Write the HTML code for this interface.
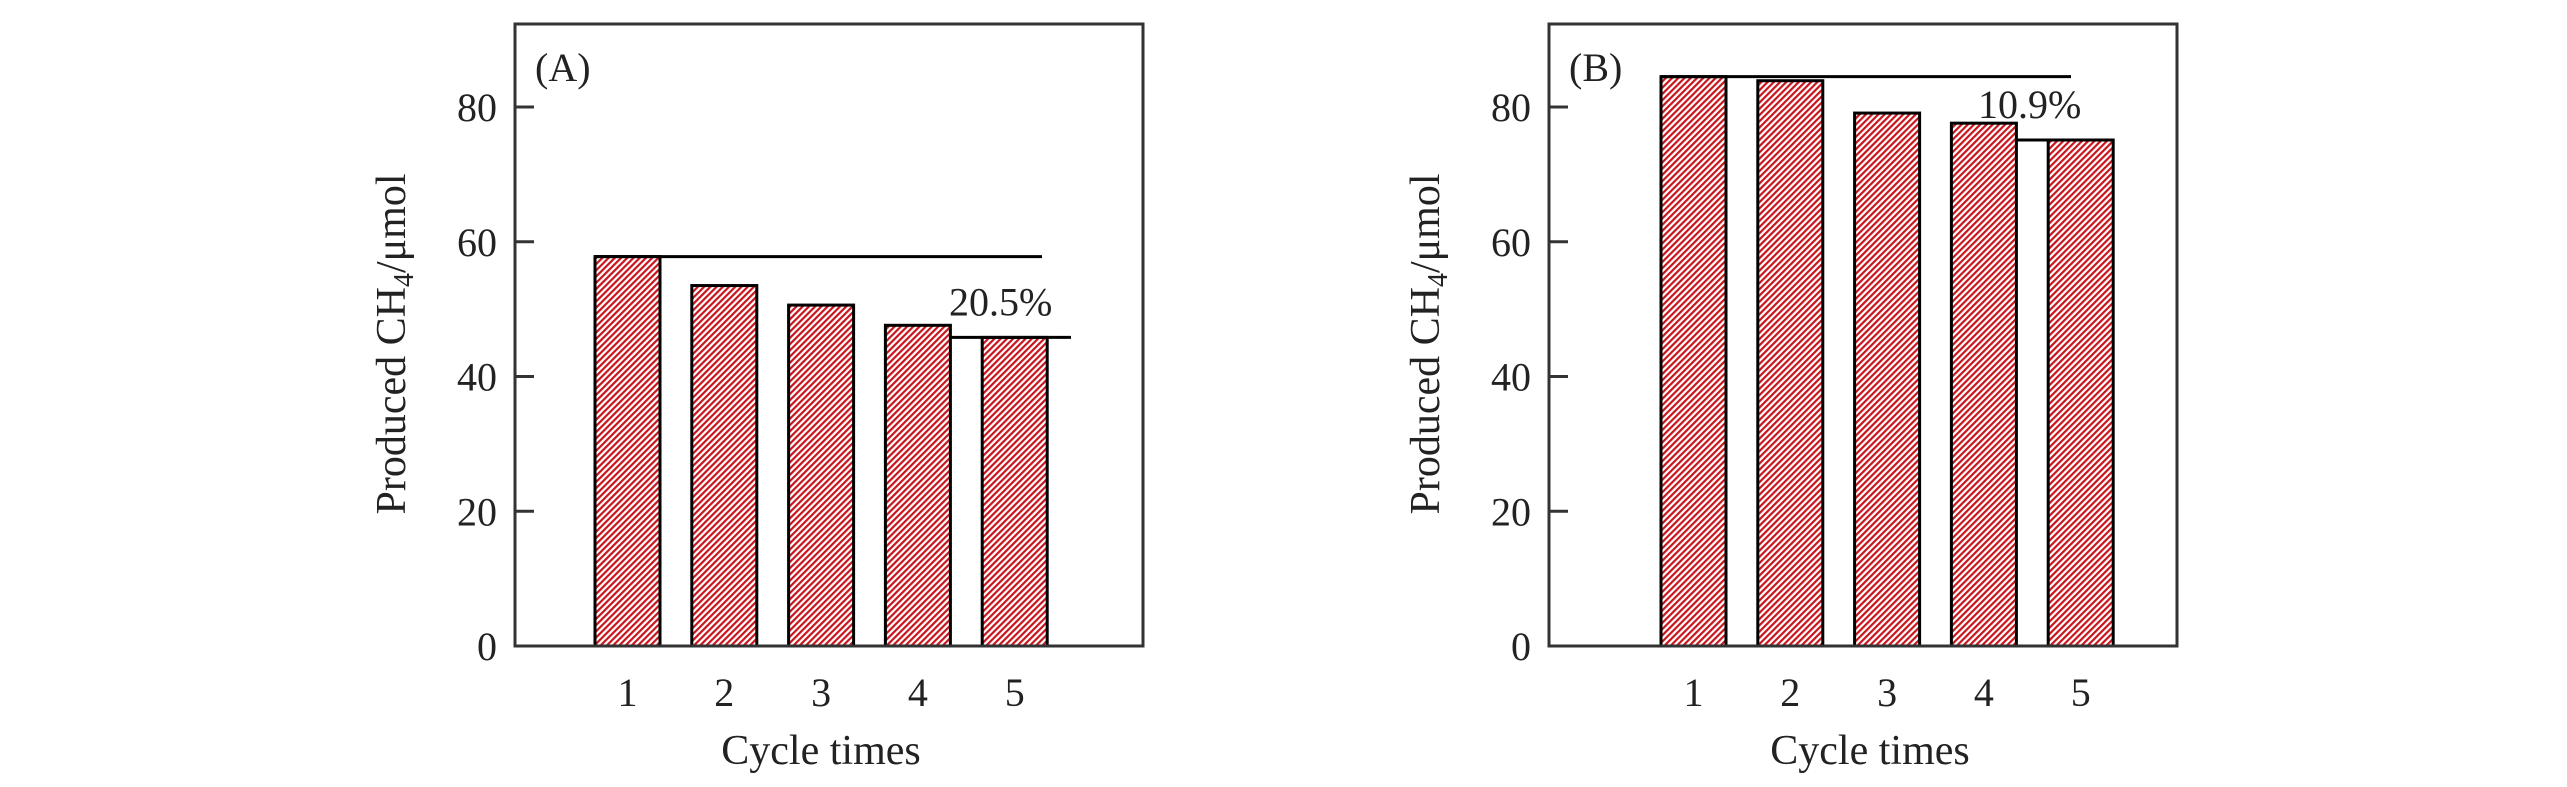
<!DOCTYPE html>
<html><head><meta charset="utf-8">
<style>
html,body{margin:0;padding:0;background:#fff;}
svg{display:block;}
text{font-family:"Liberation Serif","Times New Roman",serif;fill:#222;}
</style></head>
<body>
<svg id="chart" width="2567" height="787" viewBox="0 0 2567 787" xmlns="http://www.w3.org/2000/svg">
<defs>
<pattern id="hatch" patternUnits="userSpaceOnUse" width="4.4" height="4.4" patternTransform="rotate(45)">
<rect width="4.4" height="4.4" fill="#fff"/>
<rect x="0" y="0" width="2.2" height="4.4" fill="#c8141c"/>
</pattern>
</defs>
</svg>
<script>
const categories = ["1","2","3","4","5"];
const valuesA = [57.8, 53.5, 50.6, 47.6, 45.8];
const valuesB = [84.5, 83.9, 79.1, 77.6, 75.1];
const yTicks = [0, 20, 40, 60, 80];
const labelA = "20.5%";
const labelB = "10.9%";

const NS = "http://www.w3.org/2000/svg";
const svg = document.getElementById("chart");
function mk(tag, attrs, parent){
  const e = document.createElementNS(NS, tag);
  for (const k in attrs) e.setAttribute(k, attrs[k]);
  (parent||svg).appendChild(e);
  return e;
}

function panel(opt){
  const g = mk("g", {});
  
  
  const L = opt.left, R = opt.left + 628, T = 24, B = 646;
  const y = v => B - v * 6.7375;
  const x0 = opt.firstCenter, step = 96.8, bw = 65;
  const xc = i => x0 + i * step;

  opt.values.forEach((v, i) => {
    const r = mk("rect", {x: xc(i) - bw/2, y: y(v), width: bw, height: B - y(v), fill: "url(#hatch)", stroke: "#000", "stroke-width": 3}, g);
    
    
  });

  const fr = mk("rect", {x: L, y: T, width: R - L, height: B - T, fill: "none", stroke: "#333", "stroke-width": 3}, g);
  
  

  yTicks.forEach(t => {
    const tk = mk("line", {x1: L, x2: L + 19, y1: y(t), y2: y(t), stroke: "#333", "stroke-width": 3}, g);
    
    
    const tl = mk("text", {x: L - 18, y: y(t) + 14, "font-size": 40, "text-anchor": "end"}, g);
    tl.textContent = t;
    
    
  });

  categories.forEach((c, i) => {
    const t = mk("text", {x: xc(i), y: 706, "font-size": 40, "text-anchor": "middle"}, g);
    t.textContent = c;
    
    
  });

  const first = opt.values[0], last = opt.values[opt.values.length - 1];
  const l1 = mk("line", {x1: xc(0) - bw/2, x2: opt.topLineEnd, y1: y(first), y2: y(first), stroke: "#000", "stroke-width": 3}, g);
  
  
  const l2 = mk("line", {x1: xc(3) + bw/2 - 1, x2: opt.lowLineEnd, y1: y(last), y2: y(last), stroke: "#000", "stroke-width": 3}, g);
  
  
  const pl = mk("text", {x: opt.pctX, y: y(last) - 22, "font-size": 40}, g);
  pl.textContent = opt.pct;
  
  

  const pn = mk("text", {x: L + 20, y: 81, "font-size": 40}, g);
  pn.textContent = opt.tag;
  
  

  const xt = mk("text", {x: opt.xTitleX, y: 764, "font-size": 42, "text-anchor": "middle"}, g);
  xt.textContent = "Cycle times";
  
  
  const yt = mk("text", {x: 0, y: 0, "font-size": 42, "text-anchor": "middle", transform: "translate(" + (L - 110) + ",344) rotate(-90)"}, g);
  yt.innerHTML = 'Produced CH<tspan font-size="28" dy="8">4</tspan><tspan dy="-8">/μmol</tspan>';
  
  
}

panel({name: "panel-a", tag: "(A)", left: 515, firstCenter: 627.5, values: valuesA, pct: labelA, topLineEnd: 1042, lowLineEnd: 1071, pctX: 949, xTitleX: 821});
panel({name: "panel-b", tag: "(B)", left: 1549, firstCenter: 1693.5, values: valuesB, pct: labelB, topLineEnd: 2071, lowLineEnd: 2113, pctX: 1978, xTitleX: 1870});
</script>
</body></html>
